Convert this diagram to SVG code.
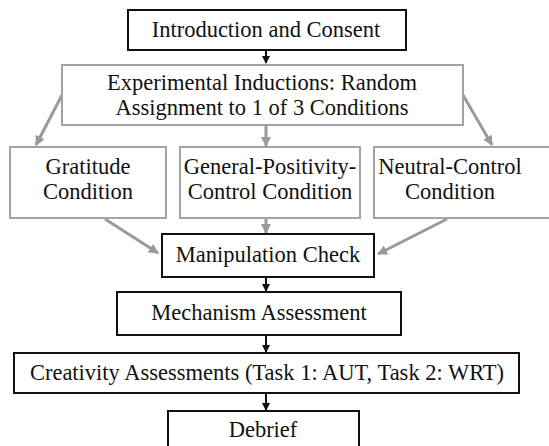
<svg xmlns="http://www.w3.org/2000/svg" width="549" height="446" viewBox="0 0 549 446">
<style>
.bk{fill:#fff;stroke:#111;stroke-width:2}
.gr{fill:#fff;stroke:#a3a3a3;stroke-width:2}
text{font-family:'Liberation Serif','Times New Roman',serif;font-size:22.5px;fill:#111;text-anchor:middle}
.cb{stroke:#111;stroke-width:2;fill:none}
.cg{stroke:#9a9a9a;stroke-width:3;fill:none}
</style>
<defs>
<marker id="ab" markerWidth="8" markerHeight="8" refX="7" refY="4" orient="auto" markerUnits="userSpaceOnUse"><path d="M0,0 L8,4 L0,8 Z" fill="#111"/></marker>
<marker id="ag" markerWidth="10" markerHeight="10" refX="9" refY="5" orient="auto" markerUnits="userSpaceOnUse"><path d="M0,0 L10,5 L0,10 Z" fill="#9a9a9a"/></marker>
</defs>
<rect width="549" height="446" fill="#fff"/>
<g id="connectors">
<line class="cb" x1="266" y1="50" x2="266" y2="63" marker-end="url(#ab)"/>
<line class="cg" x1="62" y1="95" x2="36" y2="145" marker-end="url(#ag)"/>
<line class="cg" x1="266" y1="126" x2="266" y2="146" marker-end="url(#ag)"/>
<line class="cg" x1="463" y1="95" x2="492" y2="145" marker-end="url(#ag)"/>
<line class="cg" x1="105" y1="219" x2="158" y2="253" marker-end="url(#ag)"/>
<line class="cg" x1="266" y1="218" x2="266" y2="233" marker-end="url(#ag)"/>
<line class="cg" x1="447" y1="219" x2="378" y2="254" marker-end="url(#ag)"/>
<line class="cb" x1="266" y1="277" x2="266" y2="291" marker-end="url(#ab)"/>
<line class="cb" x1="266" y1="335" x2="266" y2="352" marker-end="url(#ab)"/>
<line class="cb" x1="266" y1="393" x2="266" y2="410" marker-end="url(#ab)"/>
</g>
<g id="intro"><rect class="bk" x="128" y="10" width="278" height="40"/><text x="266" y="37">Introduction and Consent</text></g>
<g id="inductions"><rect class="gr" x="62" y="65" width="401" height="60"/><text x="262" y="90">Experimental Inductions: Random</text><text x="262" y="115">Assignment to 1 of 3 Conditions</text></g>
<g id="gratitude"><rect class="gr" x="10" y="147" width="156" height="71"/><text x="88" y="174">Gratitude</text><text x="88" y="199">Condition</text></g>
<g id="general"><rect class="gr" x="180" y="147" width="180" height="71"/><text x="270" y="174">General-Positivity-</text><text x="270" y="199">Control Condition</text></g>
<g id="neutral"><rect class="gr" x="374" y="147" width="180" height="71"/><text x="450" y="174">Neutral-Control</text><text x="450" y="199">Condition</text></g>
<g id="manipulation"><rect class="bk" x="162" y="234" width="212" height="43"/><text x="268" y="262">Manipulation Check</text></g>
<g id="mechanism"><rect class="bk" x="117" y="292" width="284" height="43"/><text x="259" y="320">Mechanism Assessment</text></g>
<g id="creativity"><rect class="bk" x="14" y="353" width="505" height="40"/><text x="267" y="380">Creativity Assessments (Task 1: AUT, Task 2: WRT)</text></g>
<g id="debrief"><rect class="bk" x="168" y="411" width="191" height="40"/><text x="263" y="437">Debrief</text></g>
</svg>
